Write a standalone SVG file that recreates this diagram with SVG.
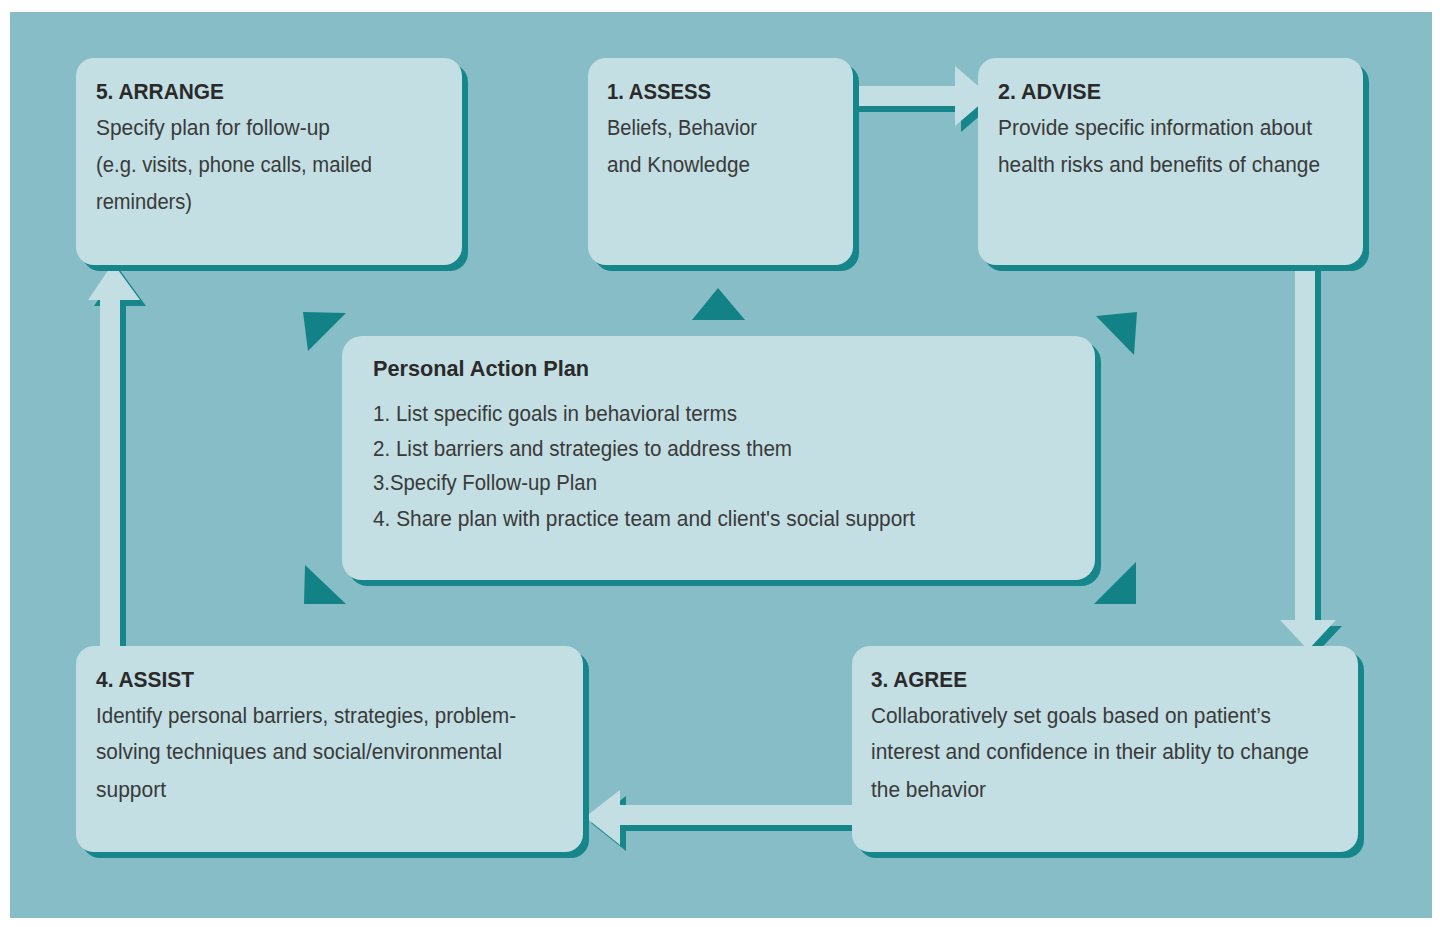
<svg xmlns="http://www.w3.org/2000/svg" width="1440" height="927" viewBox="0 0 1440 927">
<defs>
<style>
.box{fill:#c3dfe3}
.sh{fill:#16868b}
.t{font-family:"Liberation Sans",Arial,sans-serif;font-size:22px;font-weight:bold;fill:#2a2a2a}
.b{font-family:"Liberation Sans",Arial,sans-serif;font-size:22px;fill:#3a3a3a}
.tri{fill:#138286}
</style>
</defs>
<rect width="1440" height="927" fill="#ffffff"/>
<rect x="10" y="12" width="1422" height="906" fill="#86bdc6"/>
<g id="connectors">
<path class="sh" d="M858,92 H961 V72 L996,102 L961,132 V112 H858 Z"/>
<path class="box" d="M852,86 H955 V66 L990,96 L955,126 V106 H852 Z"/>
<path class="sh" d="M1301,265 V626 H1286 L1314,656 L1342,626 H1321 V265 Z"/>
<path class="box" d="M1295,265 V620 H1280 L1308,650 L1336,620 H1315 V265 Z"/>
<path class="sh" d="M858,811 H626 V796 L591,823 L626,851 V831 H858 Z"/>
<path class="box" d="M852,805 H620 V790 L585,817 L620,845 V825 H852 Z"/>
<path class="sh" d="M106,646 V306 H94 L119,269 L146,306 H126 V646 Z"/>
<path class="box" d="M100,646 V300 H88 L113,263 L140,300 H120 V646 Z"/>
</g>
<g id="triangles">
<polygon class="tri" points="303,312 346,313 308,351"/>
<polygon class="tri" points="692,320 745,320 718,288"/>
<polygon class="tri" points="1096,316 1137,312 1134,355"/>
<polygon class="tri" points="305,565 346,604 304,604"/>
<polygon class="tri" points="1136,562 1136,604 1094,604"/>
</g>
<g id="arrange">
<rect class="sh" x="82" y="64" width="386" height="207" rx="18"/>
<rect class="box" x="76" y="58" width="386" height="207" rx="18"/>
<text class="t" x="96" y="99" textLength="128" lengthAdjust="spacingAndGlyphs">5. ARRANGE</text>
<text class="b" x="96" y="135" textLength="234" lengthAdjust="spacingAndGlyphs">Specify plan for follow-up</text>
<text class="b" x="96" y="172" textLength="276" lengthAdjust="spacingAndGlyphs">(e.g. visits, phone calls, mailed</text>
<text class="b" x="96" y="209" textLength="96" lengthAdjust="spacingAndGlyphs">reminders)</text>
</g>
<g id="assess">
<rect class="sh" x="594" y="64" width="265" height="207" rx="18"/>
<rect class="box" x="588" y="58" width="265" height="207" rx="18"/>
<text class="t" x="607" y="99" textLength="104" lengthAdjust="spacingAndGlyphs">1. ASSESS</text>
<text class="b" x="607" y="135" textLength="150" lengthAdjust="spacingAndGlyphs">Beliefs, Behavior</text>
<text class="b" x="607" y="172" textLength="143" lengthAdjust="spacingAndGlyphs">and Knowledge</text>
</g>
<g id="advise">
<rect class="sh" x="984" y="64" width="385" height="207" rx="18"/>
<rect class="box" x="978" y="58" width="385" height="207" rx="18"/>
<text class="t" x="998" y="99" textLength="103" lengthAdjust="spacingAndGlyphs">2. ADVISE</text>
<text class="b" x="998" y="135" textLength="314" lengthAdjust="spacingAndGlyphs">Provide specific information about</text>
<text class="b" x="998" y="172" textLength="322" lengthAdjust="spacingAndGlyphs">health risks and benefits of change</text>
</g>
<g id="plan">
<rect class="sh" x="348" y="342" width="753" height="244" rx="20"/>
<rect class="box" x="342" y="336" width="753" height="244" rx="20"/>
<text class="t" x="373" y="376" textLength="216" lengthAdjust="spacingAndGlyphs">Personal Action Plan</text>
<text class="b" x="373" y="421" textLength="364" lengthAdjust="spacingAndGlyphs">1. List specific goals in behavioral terms</text>
<text class="b" x="373" y="456" textLength="419" lengthAdjust="spacingAndGlyphs">2. List barriers and strategies to address them</text>
<text class="b" x="373" y="490" textLength="224" lengthAdjust="spacingAndGlyphs">3.Specify Follow-up Plan</text>
<text class="b" x="373" y="526" textLength="542" lengthAdjust="spacingAndGlyphs">4. Share plan with practice team and client's social support</text>
</g>
<g id="assist">
<rect class="sh" x="82" y="652" width="507" height="206" rx="18"/>
<rect class="box" x="76" y="646" width="507" height="206" rx="18"/>
<text class="t" x="96" y="687" textLength="98" lengthAdjust="spacingAndGlyphs">4. ASSIST</text>
<text class="b" x="96" y="723" textLength="420" lengthAdjust="spacingAndGlyphs">Identify personal barriers, strategies, problem-</text>
<text class="b" x="96" y="759" textLength="406" lengthAdjust="spacingAndGlyphs">solving techniques and social/environmental</text>
<text class="b" x="96" y="797" textLength="70" lengthAdjust="spacingAndGlyphs">support</text>
</g>
<g id="agree">
<rect class="sh" x="858" y="652" width="506" height="206" rx="18"/>
<rect class="box" x="852" y="646" width="506" height="206" rx="18"/>
<text class="t" x="871" y="687" textLength="96" lengthAdjust="spacingAndGlyphs">3. AGREE</text>
<text class="b" x="871" y="723" textLength="400" lengthAdjust="spacingAndGlyphs">Collaboratively set goals based on patient’s</text>
<text class="b" x="871" y="759" textLength="438" lengthAdjust="spacingAndGlyphs">interest and confidence in their ablity to change</text>
<text class="b" x="871" y="797" textLength="115" lengthAdjust="spacingAndGlyphs">the behavior</text>
</g>
</svg>
